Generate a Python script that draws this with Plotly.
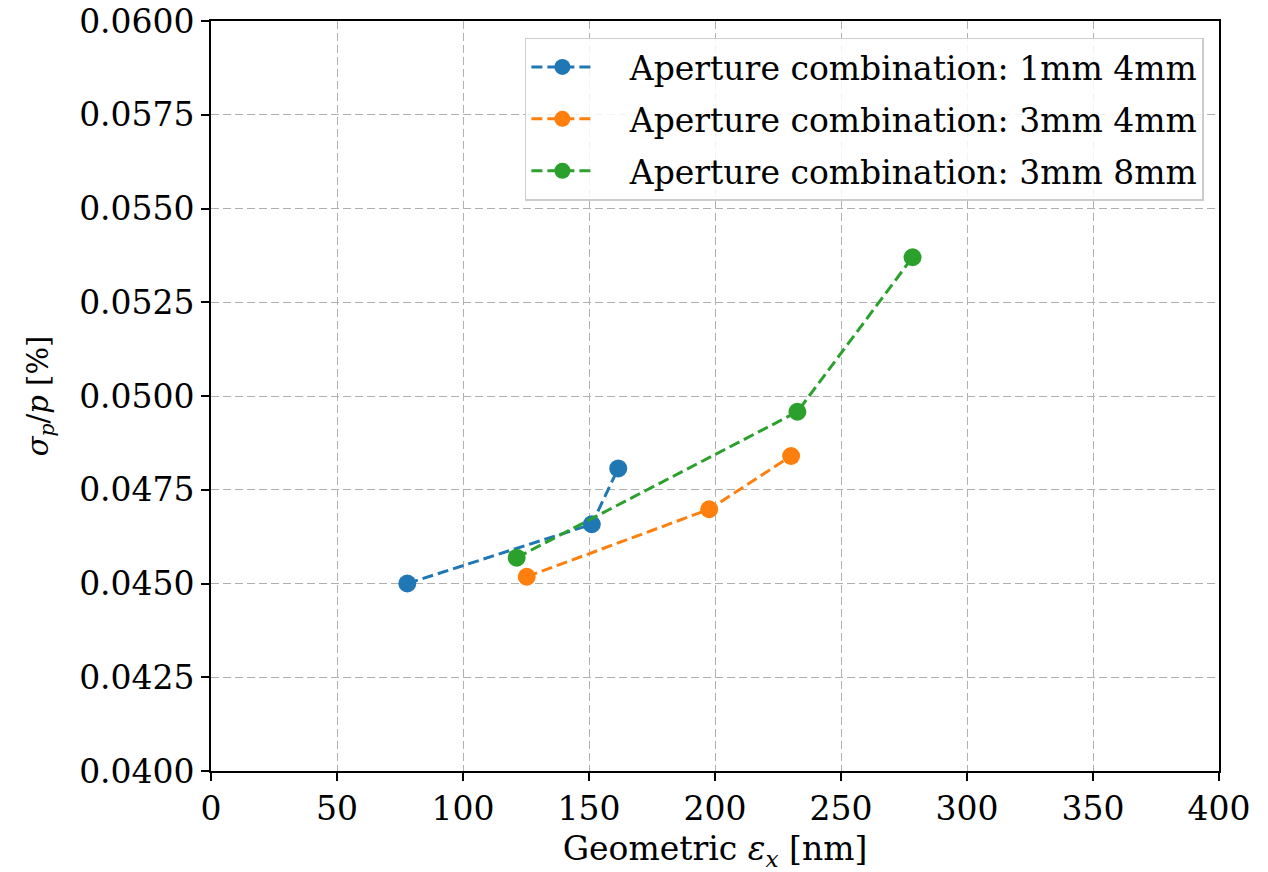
import plotly.graph_objects as go

# Geometric emittance [nm] and relative momentum spread [%] per aperture combination
series_names = [
    "Aperture combination: 1mm 4mm",
    "Aperture combination: 3mm 4mm",
    "Aperture combination: 3mm 8mm",
]
emit_1mm_4mm = [77.9, 151.1, 161.6]
spread_1mm_4mm = [0.0450, 0.04658, 0.04807]
emit_3mm_4mm = [125.3, 197.7, 230.2]
spread_3mm_4mm = [0.04518, 0.04698, 0.0484]
emit_3mm_8mm = [121.3, 232.7, 278.4]
spread_3mm_8mm = [0.04569, 0.04958, 0.0537]

colors = ["#1f77b4", "#ff7f0e", "#2ca02c"]
FONT = "DejaVu Serif"
FS = 33
PAD = "\u00a0" * 3  # gap between legend handle and label

fig = go.Figure()
for i, (name, xs, ys, c) in enumerate(zip(
    series_names,
    [emit_1mm_4mm, emit_3mm_4mm, emit_3mm_8mm],
    [spread_1mm_4mm, spread_3mm_4mm, spread_3mm_8mm],
    colors,
)):
    fig.add_trace(go.Scatter(
        x=xs, y=ys, name=PAD + name, mode="lines+markers", legendgroup=f"g{i}",
        line=dict(color=c, width=3, dash="11px,5px"),
        marker=dict(color=c, size=18, line=dict(width=0)),
    ))

axis_common = dict(
    showline=True, linecolor="black", linewidth=1.6, mirror=True,
    ticks="outside", ticklen=8, tickwidth=1.6, tickcolor="black",
    showgrid=True, gridcolor="#b0b0b0", gridwidth=1.3, griddash="8px,4px",
    zeroline=False, automargin=False,
    tickfont=dict(family=FONT, size=FS, color="black"),
)

fig.update_xaxes(
    range=[0, 400], dtick=50, tick0=0,
    title=dict(text="Geometric <i>ε<sub>x</sub></i> [nm]",
               font=dict(family=FONT, size=FS, color="black"), standoff=14),
    **axis_common,
)
fig.update_yaxes(
    range=[0.04, 0.06], dtick=0.0025, tick0=0.04, tickformat=".4f",
    title=dict(text="<i>σ<sub>p</sub></i>/<i>p</i> [%]",
               font=dict(family=FONT, size=29, color="black"), standoff=22),
    **axis_common,
)

fig.update_layout(
    width=1268, height=872,
    margin=dict(l=211, r=49, t=21, b=101),
    paper_bgcolor="white", plot_bgcolor="white",
    font=dict(family=FONT, size=FS, color="black"),
    legend=dict(
        x=0.985, y=0.978, xanchor="right", yanchor="top",
        bgcolor="rgba(255,255,255,0.85)", bordercolor="#cccccc", borderwidth=1.5,
        font=dict(family=FONT, size=FS, color="black"),
        itemwidth=62, tracegroupgap=6,
    ),
)

fig.write_html("out.html")
